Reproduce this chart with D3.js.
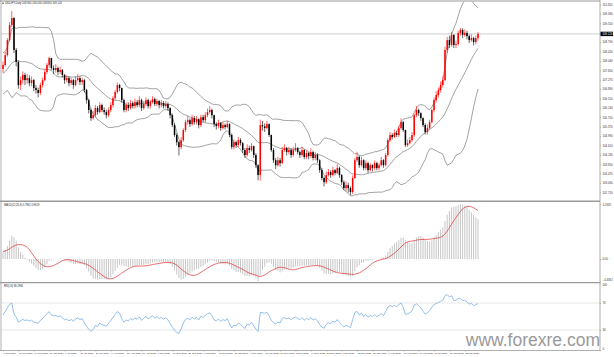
<!DOCTYPE html>
<html><head><meta charset="utf-8">
<script src="https://cdn.jsdelivr.net/npm/d3@7"></script>
<style>html,body{margin:0;padding:0;background:#fff;overflow:hidden}</style>
</head><body>
<svg id="c" width="614" height="357" xmlns="http://www.w3.org/2000/svg"></svg>
<script>
// ---------- DATA ----------
const symbol = "USDJPY,Daily";
// closes before the first visible bar (used only to warm up indicators)
const preCloses = [107.6,107.9,107.5,107.2,106.9,106.7,106.9,106.6,106.3,106.5,106.4,106.8,106.6,107.1,107.5,107.3,107.0,107.4,107.8,107.5,107.2,107.7,107.9,107.6,108.1,108.3,107.9,107.6,107.5,107.7];
const opens = [107.70,107.86,108.26,108.87,109.48,109.76,108.47,107.98,107.05,107.25,
107.46,107.25,107.33,107.13,107.25,106.93,106.85,106.73,107.05,107.25,
107.58,107.86,108.14,107.74,107.66,107.74,107.58,107.66,107.46,107.25,
107.33,107.13,107.25,107.05,107.25,107.33,107.17,107.25,106.85,106.44,
106.04,105.71,105.83,106.12,105.96,106.24,106.04,105.96,105.83,106.04,
106.24,106.52,106.77,107.05,106.93,106.44,106.04,106.24,106.12,106.32,
106.20,106.36,106.24,106.44,106.12,106.28,106.44,106.20,106.36,106.48,
106.28,106.40,106.24,106.32,106.20,106.28,106.12,105.83,105.43,105.03,
104.74,104.54,104.82,105.23,105.55,105.63,105.47,105.71,105.55,105.67,
105.43,105.75,105.63,105.83,105.96,106.04,105.83,105.47,105.39,105.51,
105.31,105.43,105.35,105.47,105.03,104.54,104.74,104.62,104.82,104.70,
104.42,104.22,104.50,104.42,104.58,104.22,103.81,103.41,105.43,105.38,
105.31,105.47,105.03,104.42,104.01,103.81,104.01,103.89,104.42,104.50,
104.34,104.42,104.22,104.42,104.50,104.34,104.22,104.42,104.14,104.30,
104.18,104.34,104.10,104.22,104.01,103.61,103.29,103.12,103.41,103.53,
103.41,103.61,103.49,103.69,103.41,103.12,102.88,103.00,102.88,102.72,
103.29,104.01,104.14,103.81,104.01,103.69,103.89,103.61,103.81,103.69,
103.89,103.69,103.81,104.01,103.81,104.22,104.82,105.03,104.95,105.11,
105.03,105.31,105.55,105.23,104.62,104.70,104.82,105.03,105.83,106.04,
105.91,105.71,105.43,105.15,105.31,105.55,106.04,106.44,106.65,106.85,
107.05,107.25,108.47,108.87,108.67,109.08,108.67,108.71,109.16,109.28,
109.08,109.16,109.03,108.87,108.95,108.79,108.95];
const highs = [108.00,108.40,108.95,109.60,110.05,109.80,108.55,108.05,107.40,107.60,
107.55,107.50,107.45,107.40,107.30,107.05,106.95,107.15,107.35,107.70,
107.95,108.20,108.15,107.85,107.90,107.80,107.80,107.70,107.50,107.45,
107.40,107.35,107.30,107.40,107.50,107.40,107.35,107.30,106.90,106.50,
106.10,106.00,106.25,106.20,106.35,106.30,106.15,106.05,106.15,106.35,
106.60,106.85,107.15,107.10,106.95,106.50,106.35,106.35,106.45,106.40,
106.50,106.45,106.60,106.50,106.40,106.55,106.50,106.45,106.60,106.55,
106.50,106.45,106.45,106.40,106.40,106.35,106.15,105.90,105.50,105.10,
104.80,104.95,105.30,105.65,105.80,105.70,105.85,105.80,105.80,105.70,
105.85,105.85,105.95,106.10,106.20,106.10,105.85,105.55,105.65,105.55,
105.55,105.50,105.60,105.50,105.10,104.85,104.80,104.95,104.90,104.75,
104.50,104.65,104.60,104.70,104.60,104.30,103.85,105.65,105.60,105.50,
105.60,105.50,105.05,104.50,104.10,104.15,104.10,104.55,104.65,104.55,
104.55,104.50,104.55,104.70,104.55,104.40,104.55,104.45,104.40,104.35,
104.50,104.40,104.35,104.30,104.05,103.70,103.35,103.55,103.65,103.60,
103.75,103.65,103.85,103.75,103.45,103.20,103.15,103.10,102.95,103.40,
104.10,104.35,104.20,104.15,104.05,104.00,103.95,103.90,103.85,104.00,
103.95,103.90,104.15,104.05,104.30,104.90,105.15,105.10,105.25,105.20,
105.40,105.70,105.60,105.25,104.85,104.95,105.15,105.90,106.20,106.10,
105.95,105.75,105.50,105.45,105.65,106.10,106.55,106.80,106.95,107.20,
107.40,108.60,109.00,109.05,109.20,109.10,108.85,109.25,109.36,109.35,
109.30,109.25,109.10,109.10,109.00,109.05,109.20];
const lows = [107.55,107.80,108.20,108.80,109.40,108.35,107.80,106.90,106.85,107.10,
107.05,107.10,107.00,107.00,106.80,106.70,106.55,106.65,106.95,107.20,
107.50,107.75,107.65,107.50,107.55,107.45,107.50,107.35,107.10,107.15,
107.00,107.05,106.90,107.00,107.20,107.05,107.05,106.75,106.30,105.90,
105.60,105.65,105.75,105.85,105.90,105.95,105.85,105.70,105.75,105.95,
106.15,106.45,106.70,106.80,106.35,105.95,105.95,106.00,106.05,106.10,
106.10,106.15,106.15,106.00,106.05,106.20,106.10,106.10,106.30,106.20,
106.20,106.10,106.15,106.10,106.10,106.00,105.70,105.35,104.95,104.60,
104.20,104.45,104.75,105.15,105.45,105.35,105.40,105.45,105.45,105.30,
105.35,105.55,105.55,105.75,105.90,105.70,105.35,105.25,105.30,105.20,
105.25,105.25,105.30,104.95,104.45,104.45,104.50,104.55,104.60,104.30,
104.10,104.15,104.30,104.35,104.10,103.70,103.20,103.18,105.20,105.15,
105.25,104.95,104.35,103.90,103.65,103.75,103.75,103.85,104.35,104.20,
104.25,104.10,104.15,104.35,104.25,104.10,104.15,104.05,104.05,104.05,
104.10,104.00,104.00,103.90,103.50,103.20,102.95,103.05,103.35,103.30,
103.35,103.40,103.45,103.30,103.00,102.80,102.75,102.70,102.59,102.65,
103.25,103.95,103.70,103.75,103.60,103.60,103.50,103.55,103.55,103.60,
103.60,103.60,103.75,103.70,103.75,104.15,104.75,104.85,104.90,104.95,
104.95,105.25,105.15,104.55,104.55,104.65,104.75,104.95,105.75,105.80,
105.60,105.35,105.05,105.05,105.25,105.50,105.95,106.35,106.55,106.75,
106.95,107.20,108.35,108.55,108.60,108.55,108.55,108.65,109.05,108.95,
109.00,108.90,108.75,108.80,108.65,108.70,108.85];
const closes = [107.86,108.26,108.87,109.48,109.76,108.47,107.98,107.05,107.25,107.46,
107.25,107.33,107.13,107.25,106.93,106.85,106.73,107.05,107.25,107.58,
107.86,108.14,107.74,107.66,107.74,107.58,107.66,107.46,107.25,107.33,
107.13,107.25,107.05,107.25,107.33,107.17,107.25,106.85,106.44,106.04,
105.71,105.83,106.12,105.96,106.24,106.04,105.96,105.83,106.04,106.24,
106.52,106.77,107.05,106.93,106.44,106.04,106.24,106.12,106.32,106.20,
106.36,106.24,106.44,106.12,106.28,106.44,106.20,106.36,106.48,106.28,
106.40,106.24,106.32,106.20,106.28,106.12,105.83,105.43,105.03,104.74,
104.54,104.82,105.23,105.55,105.63,105.47,105.71,105.55,105.67,105.43,
105.75,105.63,105.83,105.96,106.04,105.83,105.47,105.39,105.51,105.31,
105.43,105.35,105.47,105.03,104.54,104.74,104.62,104.82,104.70,104.42,
104.22,104.50,104.42,104.58,104.22,103.81,103.41,105.43,105.38,105.31,
105.47,105.03,104.42,104.01,103.81,104.01,103.89,104.42,104.50,104.34,
104.42,104.22,104.42,104.50,104.34,104.22,104.42,104.14,104.30,104.18,
104.34,104.10,104.22,104.01,103.61,103.29,103.12,103.41,103.53,103.41,
103.61,103.49,103.69,103.41,103.12,102.88,103.00,102.88,102.72,103.29,
104.01,104.14,103.81,104.01,103.69,103.89,103.61,103.81,103.69,103.89,
103.69,103.81,104.01,103.81,104.22,104.82,105.03,104.95,105.11,105.03,
105.31,105.55,105.23,104.62,104.70,104.82,105.03,105.83,106.04,105.91,
105.71,105.43,105.15,105.31,105.55,106.04,106.44,106.65,106.85,107.05,
107.25,108.47,108.87,108.67,109.08,108.67,108.71,109.16,109.28,109.08,
109.16,109.03,108.87,108.95,108.79,108.95,109.12];
const priceTicks = [110.310,109.930,109.550,108.790,108.410,108.030,107.650,107.270,106.890,106.510,106.130,105.750,105.370,104.990,104.610,104.230,103.850,103.470,103.090,102.710];
const rsiLevels = [70, 30];
const rsiTicks = [100, 70, 30, 0];
const dateLabels = ["1 Jun 2020","10 Jun 2020","19 Jun 2020","30 Jun 2020","9 Jul 2020","20 Jul 2020","29 Jul 2020","7 Aug 2020","18 Aug 2020","27 Aug 2020","7 Sep 2020","16 Sep 2020","25 Sep 2020","6 Oct 2020","15 Oct 2020","26 Oct 2020","4 Nov 2020","13 Nov 2020","24 Nov 2020","3 Dec 2020","14 Dec 2020","23 Dec 2020","1 Jan 2021","12 Jan 2021","21 Jan 2021","1 Feb 2021","10 Feb 2021","19 Feb 2021","2 Mar 2021","11 Mar 2021","22 Mar 2021"];
const dateStep = 7;
const watermark = "www.forexre.com";

// ---------- INDICATORS ----------
const all = preCloses.concat(closes);
const P = preCloses.length;
const N = closes.length;
const bbMid = [], bbUp = [], bbLo = [];
for (let j = 0; j < all.length; j++) {
  if (j < 19) { bbMid.push(null); bbUp.push(null); bbLo.push(null); continue; }
  const w = all.slice(j - 19, j + 1);
  const m = d3.mean(w);
  const sd = Math.sqrt(d3.mean(w, v => (v - m) * (v - m)));
  bbMid.push(m); bbUp.push(m + 2 * sd); bbLo.push(m - 2 * sd);
}
function ema(arr, n) { const a = 2 / (n + 1); const out = [arr[0]]; for (let j = 1; j < arr.length; j++) out.push(arr[j] * a + out[j - 1] * (1 - a)); return out; }
const e12 = ema(all, 12), e26 = ema(all, 26);
const macd = all.map((v, j) => e12[j] - e26[j]);
const signal = macd.map((v, j) => j < 8 ? null : d3.mean(macd.slice(j - 8, j + 1)));
const rsi = new Array(all.length).fill(null);
{
  let g = 0, l = 0;
  for (let j = 1; j <= 14; j++) { const d = all[j] - all[j - 1]; if (d > 0) g += d; else l -= d; }
  g /= 14; l /= 14; rsi[14] = 100 - 100 / (1 + g / l);
  for (let j = 15; j < all.length; j++) {
    const d = all[j] - all[j - 1];
    g = (g * 13 + (d > 0 ? d : 0)) / 14; l = (l * 13 + (d < 0 ? -d : 0)) / 14;
    rsi[j] = l === 0 ? 100 : 100 - 100 / (1 + g / l);
  }
}
const vis = d3.range(N).map(i => ({
  i, o: opens[i], h: highs[i], l: lows[i], c: closes[i],
  up: bbUp[i + P], mid: bbMid[i + P], lo: bbLo[i + P],
  macd: macd[i + P], sig: signal[i + P], rsi: rsi[i + P]
}));

// ---------- LAYOUT ----------
const svg = d3.select("#c");
const font = "'Liberation Sans', Arial, sans-serif";
const AX = 600;               // right axis x
const main = {top: 1.5, bottom: 200.5};
const mp = {top: 202, bottom: 282};
const rp = {top: 283, bottom: 350.5};

const x = d3.scaleLinear().domain([0, N - 1]).range([3, 478]);
const y = d3.scaleLinear().domain([102.40, 110.33]).range([200, 4]);
const mExt = d3.extent(vis.flatMap(d => [d.macd, d.sig]));
const ym = d3.scaleLinear().domain(mExt).range([281, 204]);
const yr = d3.scaleLinear().domain([0, 100]).range([350.25, 282.75]);

const defs = svg.append("defs");
defs.append("clipPath").attr("id", "cm").append("rect").attr("x", 1).attr("y", main.top).attr("width", AX - 1).attr("height", main.bottom - main.top);
defs.append("clipPath").attr("id", "cmac").append("rect").attr("x", 1).attr("y", mp.top).attr("width", AX - 1).attr("height", mp.bottom - mp.top);
defs.append("clipPath").attr("id", "crsi").append("rect").attr("x", 1).attr("y", rp.top).attr("width", AX - 1).attr("height", rp.bottom - rp.top);

// ---------- MAIN ----------
const gm = svg.append("g").attr("clip-path", "url(#cm)");
const last = vis[N - 1];
gm.append("line").attr("x1", 1).attr("x2", AX).attr("y1", y(last.c)).attr("y2", y(last.c)).attr("stroke", "#c4c4c4").attr("stroke-width", 0.8);

const bbLine = key => d3.line().defined(d => d[key] != null).x(d => x(d.i)).y(d => y(d[key]));
["up", "mid", "lo"].forEach(k => gm.append("path").datum(vis).attr("d", bbLine(k)).attr("fill", "none").attr("stroke", "#7a7a7a").attr("stroke-width", 0.7));

const cg = gm.append("g").selectAll("g").data(vis).join("g");
const col = d => d.c >= d.o ? "#ff0000" : "#000000";
cg.append("line").attr("x1", d => x(d.i)).attr("x2", d => x(d.i)).attr("y1", d => y(d.h)).attr("y2", d => y(d.l)).attr("stroke", col).attr("stroke-width", 0.6);
cg.append("rect").attr("x", d => x(d.i) - 0.75).attr("width", 1.5)
  .attr("y", d => y(Math.max(d.o, d.c))).attr("height", d => Math.max(0.6, Math.abs(y(d.o) - y(d.c)))).attr("fill", col);

svg.append("text").attr("x", 5).attr("y", 4.3).attr("font-family", font).attr("font-size", 2.6).attr("fill", "#222")
  .text(`${symbol}  ${last.o.toFixed(3)} ${last.h.toFixed(3)} ${last.l.toFixed(3)} ${last.c.toFixed(3)}`);
svg.append("path").attr("d", "M2,2.8 L4,2.8 L3,4.3 Z").attr("fill", "#222");

// ---------- MACD ----------
const gmac = svg.append("g").attr("clip-path", "url(#cmac)");
gmac.selectAll("line").data(vis).join("line").attr("x1", d => x(d.i)).attr("x2", d => x(d.i))
  .attr("y1", ym(0)).attr("y2", d => ym(d.macd)).attr("stroke", "#b8b8b8").attr("stroke-width", 0.8);
gmac.append("path").datum(vis).attr("d", d3.line().x(d => x(d.i)).y(d => ym(d.sig))).attr("fill", "none").attr("stroke", "#e03030").attr("stroke-width", 0.7);
svg.append("text").attr("x", 4).attr("y", 206).attr("font-family", font).attr("font-size", 2.6).attr("fill", "#222")
  .text(`MACD(12,26,9) ${last.macd.toFixed(4)} ${last.sig.toFixed(4)}`);

// ---------- RSI ----------
const grsi = svg.append("g").attr("clip-path", "url(#crsi)");
grsi.selectAll("line.lv").data(rsiLevels).join("line").attr("class", "lv").attr("x1", 1).attr("x2", AX)
  .attr("y1", d => yr(d)).attr("y2", d => yr(d)).attr("stroke", "#d6d6d6").attr("stroke-width", 0.6);
grsi.append("path").datum(vis).attr("d", d3.line().x(d => x(d.i)).y(d => yr(d.rsi))).attr("fill", "none").attr("stroke", "#7aaee6").attr("stroke-width", 0.8);
svg.append("text").attr("x", 4).attr("y", 287).attr("font-family", font).attr("font-size", 2.6).attr("fill", "#222")
  .text(`RSI(14) ${last.rsi.toFixed(4)}`);

// ---------- FRAMES ----------
const fr = svg.append("g").attr("fill", "none");
fr.append("line").attr("x1", 0).attr("x2", AX).attr("y1", 1).attr("y2", 1).attr("stroke", "#9a9a9a").attr("stroke-width", 1.2);
fr.append("line").attr("x1", 0).attr("x2", AX).attr("y1", 201.2).attr("y2", 201.2).attr("stroke", "#9a9a9a").attr("stroke-width", 1.6);
fr.append("line").attr("x1", 0).attr("x2", AX).attr("y1", 282.6).attr("y2", 282.6).attr("stroke", "#9a9a9a").attr("stroke-width", 1.4);
fr.append("line").attr("x1", 0).attr("x2", AX).attr("y1", 350.5).attr("y2", 350.5).attr("stroke", "#9a9a9a").attr("stroke-width", 0.8);
fr.append("line").attr("x1", 1).attr("x2", 1).attr("y1", 0).attr("y2", 351).attr("stroke", "#9a9a9a").attr("stroke-width", 0.8);
fr.append("line").attr("x1", AX).attr("x2", AX).attr("y1", 0).attr("y2", 351).attr("stroke", "#9a9a9a").attr("stroke-width", 0.8);

// ---------- AXES ----------
const tf = {family: font, size: 2.8, fill: "#333"};
const styleAxis = s => { s.select(".domain").remove(); s.selectAll(".tick line").attr("stroke", "#888").attr("stroke-width", 0.5);
  s.selectAll("text").attr("x", 2.5).attr("font-family", tf.family).attr("font-size", tf.size).attr("fill", tf.fill); };
svg.append("g").attr("transform", `translate(${AX},0)`)
  .call(d3.axisRight(y).tickValues(priceTicks).tickSize(1).tickFormat(d3.format(".3f"))).call(styleAxis);
// current price label
svg.append("rect").attr("x", AX + 0.5).attr("y", y(last.c) - 2.2).attr("width", 12.5).attr("height", 4.4).attr("fill", "#000");
svg.append("text").attr("x", AX + 2.5).attr("y", y(last.c)).attr("dy", "0.35em").attr("font-family", font).attr("font-size", 2.8).attr("fill", "#fff").text(last.c.toFixed(3));

// MACD axis labels
const macdTicks = [mExt[1], 0, mExt[0]];
svg.append("g").attr("transform", `translate(${AX},0)`)
  .call(d3.axisRight(ym).tickValues(macdTicks).tickSize(1).tickFormat(d => d === 0 ? "0.00" : d3.format(".4f")(d)))
  .call(styleAxis)
  .call(s => s.selectAll(".tick text").attr("dy", d => d === mExt[0] ? "-0.25em" : (d === mExt[1] ? "0.6em" : "0.32em")));
// RSI axis labels
svg.append("g").attr("transform", `translate(${AX},0)`)
  .call(d3.axisRight(yr).tickValues(rsiTicks).tickSize(1).tickFormat(d3.format("d")))
  .call(styleAxis)
  .call(s => s.selectAll(".tick text").attr("dy", d => d === 100 ? "1.0em" : (d === 0 ? "-0.2em" : "0.32em")));

// Date axis
const dateIdx = dateLabels.map((_, k) => k * dateStep);
svg.append("g").attr("transform", "translate(0,350.5)")
  .call(d3.axisBottom(x).tickValues(dateIdx).tickSize(1).tickFormat((d, k) => dateLabels[k]))
  .call(s => { s.select(".domain").remove(); s.selectAll(".tick line").attr("stroke", "#888").attr("stroke-width", 0.5);
    s.selectAll("text").attr("y", 2.2).attr("dy", "0.71em").attr("text-anchor", "start").attr("font-family", tf.family).attr("font-size", 2.5).attr("fill", tf.fill); });

// watermark
svg.append("text").attr("x", 600).attr("y", 346).attr("text-anchor", "end").attr("font-family", font)
  .attr("font-size", 17.5).attr("fill", "#9a9a9a").text(watermark);
</script>
</body></html>
